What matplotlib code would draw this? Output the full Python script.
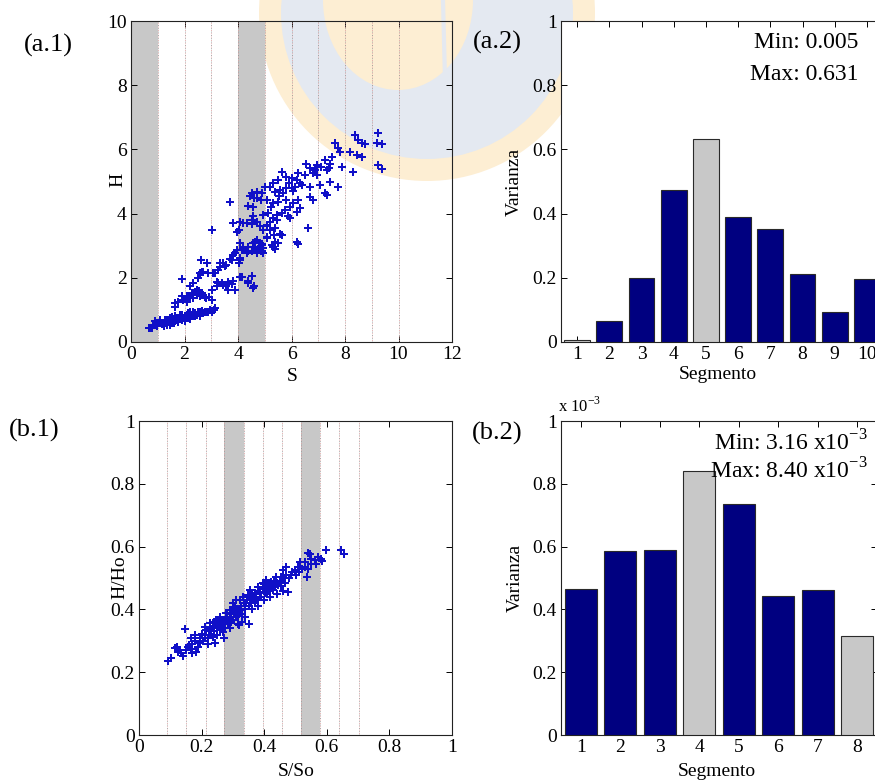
import numpy as np
import matplotlib
matplotlib.use("Agg")
import matplotlib.pyplot as plt
from matplotlib.patches import Circle, Ellipse

# fuentes tipo Times (MATLAB)
plt.rcParams["font.family"] = "Liberation Serif"
plt.rcParams["mathtext.fontset"] = "custom"
plt.rcParams["mathtext.rm"] = "Liberation Serif"

# ---------------- datos (a) ----------------
# limites de segmentos en S y segmentos destacados (min / max)
seg_edges_a = [1, 2, 3, 4, 5, 6, 7, 8, 9, 10]
gray_bands_a = [(0, 1), (4, 5)]

# puntos (S, H)
pts_a1 = np.array([
    (0.68, 0.44), (0.71, 0.45), (0.77, 0.44), (0.83, 0.54), (0.90, 0.53), (0.90, 0.64),
    (0.96, 0.51), (1.02, 0.59), (1.08, 0.63), (1.08, 0.69), (1.15, 0.55), (1.21, 0.59),
    (1.27, 0.67), (1.33, 0.54), (1.33, 0.69), (1.39, 0.64), (1.46, 0.75), (1.52, 0.59),
    (1.52, 0.79), (1.58, 0.69), (1.64, 0.64), (1.64, 0.80), (1.71, 0.74), (1.77, 0.75),
    (1.77, 0.62), (1.83, 0.85), (1.89, 0.69), (1.89, 0.84), (1.95, 0.75), (2.02, 0.64),
    (2.08, 0.79), (2.08, 0.85), (2.14, 0.90), (2.20, 0.72), (2.21, 0.95), (2.27, 0.80),
    (2.33, 0.95), (2.39, 0.80), (2.39, 0.89), (2.46, 0.85), (2.52, 0.92), (2.58, 0.80),
    (2.58, 0.95), (2.64, 0.98), (2.70, 0.90), (2.76, 0.95), (2.83, 0.95), (2.89, 0.95),
    (2.95, 1.01), (3.02, 0.92), (3.14, 1.06), (3.10, 1.00), (1.45, 0.52), (1.60, 0.58),
    (1.25, 0.50), (2.00, 0.70), (2.30, 0.82),
    (1.64, 1.10), (1.64, 1.21), (1.77, 1.26), (1.89, 1.42), (1.96, 1.31), (2.08, 1.42),
    (2.08, 1.26), (2.14, 1.36), (2.20, 1.73), (2.27, 1.52), (2.33, 1.37), (2.33, 1.83),
    (2.46, 1.47), (2.46, 1.57), (2.46, 1.63), (2.51, 1.99), (2.58, 1.42), (2.64, 1.47),
    (2.64, 1.52), (2.77, 1.39), (2.80, 1.37), (3.01, 1.32), (3.02, 1.62), (1.89, 1.95),
    (2.40, 1.55), (2.55, 1.60), (2.20, 1.40), (2.70, 1.45), (2.90, 1.40),
    (2.58, 2.14), (2.62, 2.55), (2.64, 2.19), (2.70, 2.19), (2.89, 2.16), (3.07, 2.14),
    (3.14, 2.16), (2.83, 2.46), (3.20, 1.88), (3.20, 1.73), (3.26, 1.83), (3.39, 1.83),
    (3.45, 1.78), (3.57, 1.73), (3.63, 1.63), (3.64, 1.88), (3.76, 1.81), (3.82, 1.89),
    (3.88, 1.63), (3.89, 1.62), (4.07, 2.04), (4.14, 2.04), (4.38, 1.89), (4.39, 1.85),
    (4.51, 2.06), (4.57, 1.67), (4.60, 1.73),
    (3.26, 2.25), (3.32, 2.35), (3.33, 2.45), (3.45, 2.46), (3.51, 2.37), (3.57, 2.40),
    (3.76, 2.55), (3.70, 2.60), (3.82, 2.72), (3.89, 2.76), (3.95, 2.87), (4.05, 2.46),
    (4.07, 2.61), (4.08, 2.55), (4.07, 3.08), (4.14, 2.87), (4.20, 2.92), (4.32, 2.77),
    (4.38, 2.97), (4.39, 2.82), (4.51, 2.82), (4.57, 3.08), (4.64, 2.87), (4.64, 3.13),
    (4.70, 2.77), (4.70, 3.18), (4.82, 2.97), (4.82, 3.08), (4.88, 2.82), (4.88, 3.02),
    (4.94, 2.92), (4.95, 2.76), (5.07, 3.23), (5.07, 3.28), (5.26, 3.02), (5.32, 2.97),
    (5.36, 3.33), (5.38, 2.89), (5.38, 3.13), (5.51, 3.07), (5.57, 3.38), (5.63, 3.34),
    (4.75, 2.90), (4.85, 2.85), (4.60, 2.95), (4.90, 3.05),
    (3.01, 3.49), (3.70, 4.37), (3.83, 3.72), (3.95, 3.43), (4.05, 3.49), (4.07, 3.75),
    (4.20, 3.70), (4.32, 3.70), (4.51, 3.68),
    (4.38, 4.24), (4.51, 3.80), (4.51, 4.65), (4.57, 3.91), (4.57, 4.22), (4.70, 3.75),
    (4.70, 4.48), (4.70, 4.68), (4.82, 3.60), (4.86, 4.42), (4.88, 4.63), (4.94, 3.49),
    (4.94, 3.96), (5.00, 4.84), (5.07, 3.65), (5.07, 4.42), (5.13, 4.01), (5.19, 3.49),
    (5.19, 3.75), (5.19, 4.84), (5.32, 3.85), (5.32, 4.32), (5.32, 4.94), (5.38, 4.68),
    (5.44, 3.80), (5.44, 3.96), (5.51, 4.37), (5.51, 5.05), (5.56, 4.74), (5.63, 4.01),
    (5.63, 5.31), (5.75, 4.11), (5.81, 4.42), (5.81, 4.79), (5.81, 5.15), (5.88, 3.91),
    (5.94, 3.85), (5.94, 4.22), (6.00, 4.79), (6.06, 4.32), (6.12, 4.84), (6.19, 4.06),
    (6.19, 5.05), (6.25, 4.42), (6.25, 5.25), (6.31, 4.17), (6.31, 4.94), (6.56, 5.56),
    (6.62, 3.54), (6.69, 4.53), (6.69, 4.84), (6.69, 5.41), (6.81, 4.42), (6.81, 5.25),
    (6.88, 5.36), (6.94, 5.51), (7.06, 4.89), (7.25, 4.63), (7.26, 5.67), (7.31, 4.58),
    (7.31, 5.36), (7.41, 5.41), (7.43, 5.00), (7.43, 5.56), (7.53, 5.77), (7.62, 6.19),
    (7.74, 4.84), (7.74, 6.03), (7.80, 5.93), (7.87, 5.46), (8.18, 5.93), (8.30, 5.31),
    (8.37, 6.45), (8.43, 5.82), (8.49, 6.29), (8.62, 5.77), (8.62, 6.19), (8.74, 6.17),
    (9.20, 6.21), (9.24, 6.50), (9.24, 5.51), (9.40, 5.38), (9.40, 6.16),
    (6.19, 3.10), (6.25, 3.05), (5.40, 3.55), (5.10, 3.60), (5.25, 4.20), (5.55, 4.55),
    (5.70, 4.65), (6.05, 4.70), (6.40, 4.90), (6.50, 5.20), (6.00, 5.10), (5.90, 4.95),
    (4.60, 4.50), (4.45, 4.55), (6.95, 5.20), (7.10, 5.45),
])

segmento_a = [1, 2, 3, 4, 5, 6, 7, 8, 9, 10]
varianza_a = [0.005, 0.065, 0.200, 0.475, 0.631, 0.388, 0.352, 0.212, 0.092, 0.195]
destacados_a = [1, 5]

# ---------------- datos (b) ----------------
seg_edges_b = [0.0905, 0.151, 0.215, 0.272, 0.336, 0.396, 0.456, 0.518, 0.578, 0.639, 0.702]
gray_bands_b = [(0.272, 0.336), (0.518, 0.578)]

# puntos (S/So, H/Ho)
pts_b1 = np.array([
    (0.093, 0.236), (0.103, 0.244), (0.114, 0.276), (0.121, 0.281), (0.130, 0.270),
    (0.141, 0.251), (0.146, 0.336), (0.160, 0.286), (0.167, 0.308), (0.178, 0.318),
    (0.183, 0.265), (0.194, 0.292), (0.200, 0.323), (0.210, 0.308), (0.215, 0.334),
    (0.226, 0.357), (0.231, 0.339), (0.236, 0.313), (0.242, 0.292), (0.247, 0.366),
    (0.252, 0.345), (0.258, 0.376), (0.263, 0.355), (0.268, 0.329), (0.274, 0.366),
    (0.279, 0.387), (0.290, 0.398), (0.295, 0.361), (0.300, 0.419), (0.306, 0.408),
    (0.311, 0.376), (0.316, 0.355), (0.322, 0.429), (0.327, 0.398), (0.332, 0.440),
    (0.343, 0.419), (0.348, 0.445), (0.354, 0.461), (0.359, 0.419), (0.370, 0.451),
    (0.375, 0.429), (0.380, 0.472), (0.386, 0.440), (0.396, 0.483), (0.401, 0.451),
    (0.407, 0.493), (0.412, 0.467), (0.423, 0.488), (0.428, 0.461), (0.439, 0.504),
    (0.444, 0.477), (0.455, 0.504), (0.460, 0.525), (0.471, 0.536), (0.476, 0.456),
    (0.487, 0.509), (0.497, 0.525), (0.508, 0.536), (0.513, 0.551), (0.529, 0.536),
    (0.537, 0.504), (0.545, 0.578), (0.551, 0.546), (0.561, 0.557), (0.572, 0.567),
    (0.586, 0.555), (0.599, 0.589), (0.646, 0.589), (0.655, 0.578),
    (0.125, 0.265), (0.135, 0.262), (0.150, 0.270), (0.155, 0.280), (0.165, 0.275),
    (0.170, 0.290), (0.180, 0.300), (0.190, 0.280), (0.195, 0.310), (0.205, 0.300),
    (0.210, 0.320), (0.220, 0.310), (0.225, 0.330), (0.230, 0.320), (0.235, 0.345),
    (0.240, 0.330), (0.245, 0.350), (0.250, 0.320), (0.255, 0.360), (0.260, 0.335),
    (0.265, 0.345), (0.270, 0.355), (0.275, 0.340), (0.280, 0.370), (0.285, 0.355),
    (0.290, 0.375), (0.295, 0.385), (0.300, 0.365), (0.305, 0.390), (0.310, 0.400),
    (0.315, 0.380), (0.320, 0.395), (0.325, 0.410), (0.330, 0.385), (0.335, 0.420),
    (0.340, 0.400), (0.345, 0.430), (0.350, 0.410), (0.355, 0.435), (0.360, 0.400),
    (0.365, 0.440), (0.370, 0.425), (0.375, 0.450), (0.380, 0.430), (0.385, 0.455),
    (0.390, 0.440), (0.395, 0.465), (0.400, 0.430), (0.405, 0.470), (0.410, 0.450),
    (0.415, 0.480), (0.420, 0.460), (0.425, 0.475), (0.430, 0.490), (0.435, 0.470),
    (0.440, 0.485), (0.450, 0.490), (0.455, 0.475), (0.460, 0.500), (0.465, 0.485),
    (0.470, 0.510), (0.480, 0.500), (0.490, 0.520), (0.500, 0.510), (0.510, 0.520),
    (0.520, 0.530), (0.530, 0.550), (0.540, 0.530), (0.550, 0.560), (0.565, 0.545),
    (0.580, 0.560), (0.350, 0.355), (0.330, 0.360), (0.320, 0.350), (0.290, 0.340),
    (0.270, 0.310), (0.220, 0.290), (0.170, 0.260), (0.440, 0.450), (0.420, 0.440),
    (0.460, 0.460), (0.300, 0.400), (0.340, 0.375), (0.360, 0.450), (0.380, 0.410),
    (0.400, 0.480), (0.310, 0.430), (0.280, 0.390), (0.260, 0.370), (0.240, 0.360),
    (0.210, 0.345), (0.541, 0.579),
])

segmento_b = [1, 2, 3, 4, 5, 6, 7, 8]
varianza_b = [0.465, 0.585, 0.590, 0.840, 0.737, 0.442, 0.462, 0.316]   # x 10^-3
destacados_b = [4, 8]

ticks_01 = [0, 0.2, 0.4, 0.6, 0.8, 1]
ticklabels_01 = ["0", "0.2", "0.4", "0.6", "0.8", "1"]

# ---------------- figura ----------------
W, H = 875, 780
NAVY = "#000080"
GRIS = "#c8c8c8"
AZUL = "#1010c8"

fig = plt.figure(figsize=(W / 100, H / 100), dpi=100)


def caja(l, t, r, b):
    return [l / W, 1 - b / H, (r - l) / W, (b - t) / H]


def px(x, y):
    return x / W, 1 - y / H


# marca de agua (logo tenue de fondo)
ax_bg = fig.add_axes([0, 0, 1, 1], zorder=0)
ax_bg.set_xlim(0, W)
ax_bg.set_ylim(H, 0)
ax_bg.axis("off")
ax_bg.add_patch(Circle((427, 13), 168, color="#fdeed3", lw=0))
ax_bg.add_patch(Circle((427, 13), 146, color="#e4e9f1", lw=0))
ax_bg.add_patch(Ellipse((398, 0), 150, 180, color="#fdeed3", lw=0))
ax_bg.plot([443, 445], [0, 80], color="#e4e9f1", lw=3)


def estilo_matlab(ax):
    ax.tick_params(direction="in", top=True, right=True, length=4, width=0.7,
                   labelsize=14, pad=3)
    for sp in ax.spines.values():
        sp.set_linewidth(0.8)
        sp.set_color("#222222")


def lineas_segmento(ax, edges):
    for x in edges:
        ax.axvline(x, color="#8a8a8a", lw=0.6, ls=(0, (1, 3)), zorder=2)
        ax.axvline(x, color="#e09a9a", lw=0.6, ls=(2, (1, 3)), zorder=2)


def barras(ax, seg, var, dest):
    colores = [GRIS if s in dest else NAVY for s in seg]
    ax.bar(seg, var, width=0.8, color=colores, edgecolor="#2a2a2a", linewidth=0.8, zorder=3)


# (a.1)
ax1 = fig.add_axes(caja(131, 21, 452, 342), zorder=1)
ax1.set_facecolor("none")
for a, b in gray_bands_a:
    ax1.axvspan(a, b, color=GRIS, lw=0, zorder=1)
lineas_segmento(ax1, seg_edges_a)
ax1.plot(pts_a1[:, 0], pts_a1[:, 1], ls="none", marker="P", ms=5.2, mew=0,
         color=AZUL, zorder=4)
ax1.set_xlim(0, 12)
ax1.set_ylim(0, 10)
ax1.set_xticks([0, 2, 4, 6, 8, 10, 12])
ax1.set_yticks([0, 2, 4, 6, 8, 10])
estilo_matlab(ax1)

# (a.2)
ax2 = fig.add_axes(caja(561, 21, 883, 342), zorder=1)
ax2.set_facecolor("white")
barras(ax2, segmento_a, varianza_a, destacados_a)
ax2.set_xlim(0.5, 10.5)
ax2.set_ylim(0, 1)
ax2.set_xticks(segmento_a)
ax2.set_yticks(ticks_01)
ax2.set_yticklabels(ticklabels_01)
estilo_matlab(ax2)

# (b.1)
ax3 = fig.add_axes(caja(139, 421, 452, 735), zorder=1)
ax3.set_facecolor("none")
for a, b in gray_bands_b:
    ax3.axvspan(a, b, color=GRIS, lw=0, zorder=1)
lineas_segmento(ax3, seg_edges_b)
ax3.plot(pts_b1[:, 0], pts_b1[:, 1], ls="none", marker="P", ms=5.2, mew=0,
         color=AZUL, zorder=4)
ax3.set_xlim(0, 1)
ax3.set_ylim(0, 1)
ax3.set_xticks(ticks_01)
ax3.set_xticklabels(ticklabels_01)
ax3.set_yticks(ticks_01)
ax3.set_yticklabels(ticklabels_01)
estilo_matlab(ax3)

# (b.2)
ax4 = fig.add_axes(caja(561, 421, 877, 735), zorder=1)
ax4.set_facecolor("white")
barras(ax4, segmento_b, varianza_b, destacados_b)
ax4.set_xlim(0.5, 8.5)
ax4.set_ylim(0, 1)
ax4.set_xticks(segmento_b)
ax4.set_yticks(ticks_01)
ax4.set_yticklabels(ticklabels_01)
estilo_matlab(ax4)

# textos
fs_lab = 14
fig.text(*px(118, 180), "H", fontsize=fs_lab, rotation=90, ha="center", va="center")
fig.text(*px(292, 376), "S", fontsize=fs_lab, ha="center", va="center")
fig.text(*px(514, 182), "Varianza", fontsize=fs_lab, rotation=90, ha="center", va="center")
fig.text(*px(718, 374), "Segmento", fontsize=fs_lab, ha="center", va="center")
fig.text(*px(120, 577), "H/Ho", fontsize=fs_lab, rotation=90, ha="center", va="center")
fig.text(*px(296, 771), "S/So", fontsize=fs_lab, ha="center", va="center")
fig.text(*px(515, 578), "Varianza", fontsize=fs_lab, rotation=90, ha="center", va="center")
fig.text(*px(717, 772), "Segmento", fontsize=fs_lab, ha="center", va="center")

fs_pan = 19
fig.text(*px(48, 45), "(a.1)", fontsize=fs_pan, ha="center", va="center")
fig.text(*px(497, 42), "(a.2)", fontsize=fs_pan, ha="center", va="center")
fig.text(*px(34, 430), "(b.1)", fontsize=fs_pan, ha="center", va="center")
fig.text(*px(497, 433), "(b.2)", fontsize=fs_pan, ha="center", va="center")

fs_mm = 17
fig.text(*px(858, 43), "Min: 0.005", fontsize=fs_mm, ha="right", va="center", zorder=5)
fig.text(*px(858, 75), "Max: 0.631", fontsize=fs_mm, ha="right", va="center", zorder=5)
fig.text(*px(868, 443), r"Min: 3.16 x10$^{\mathregular{-3}}$", fontsize=fs_mm,
         ha="right", va="center", zorder=5)
fig.text(*px(868, 471), r"Max: 8.40 x10$^{\mathregular{-3}}$", fontsize=fs_mm,
         ha="right", va="center", zorder=5)
fig.text(*px(580, 406), r"x 10$^{\mathregular{-3}}$", fontsize=12, ha="center", va="center")

fig.savefig("out.png", dpi=100)
